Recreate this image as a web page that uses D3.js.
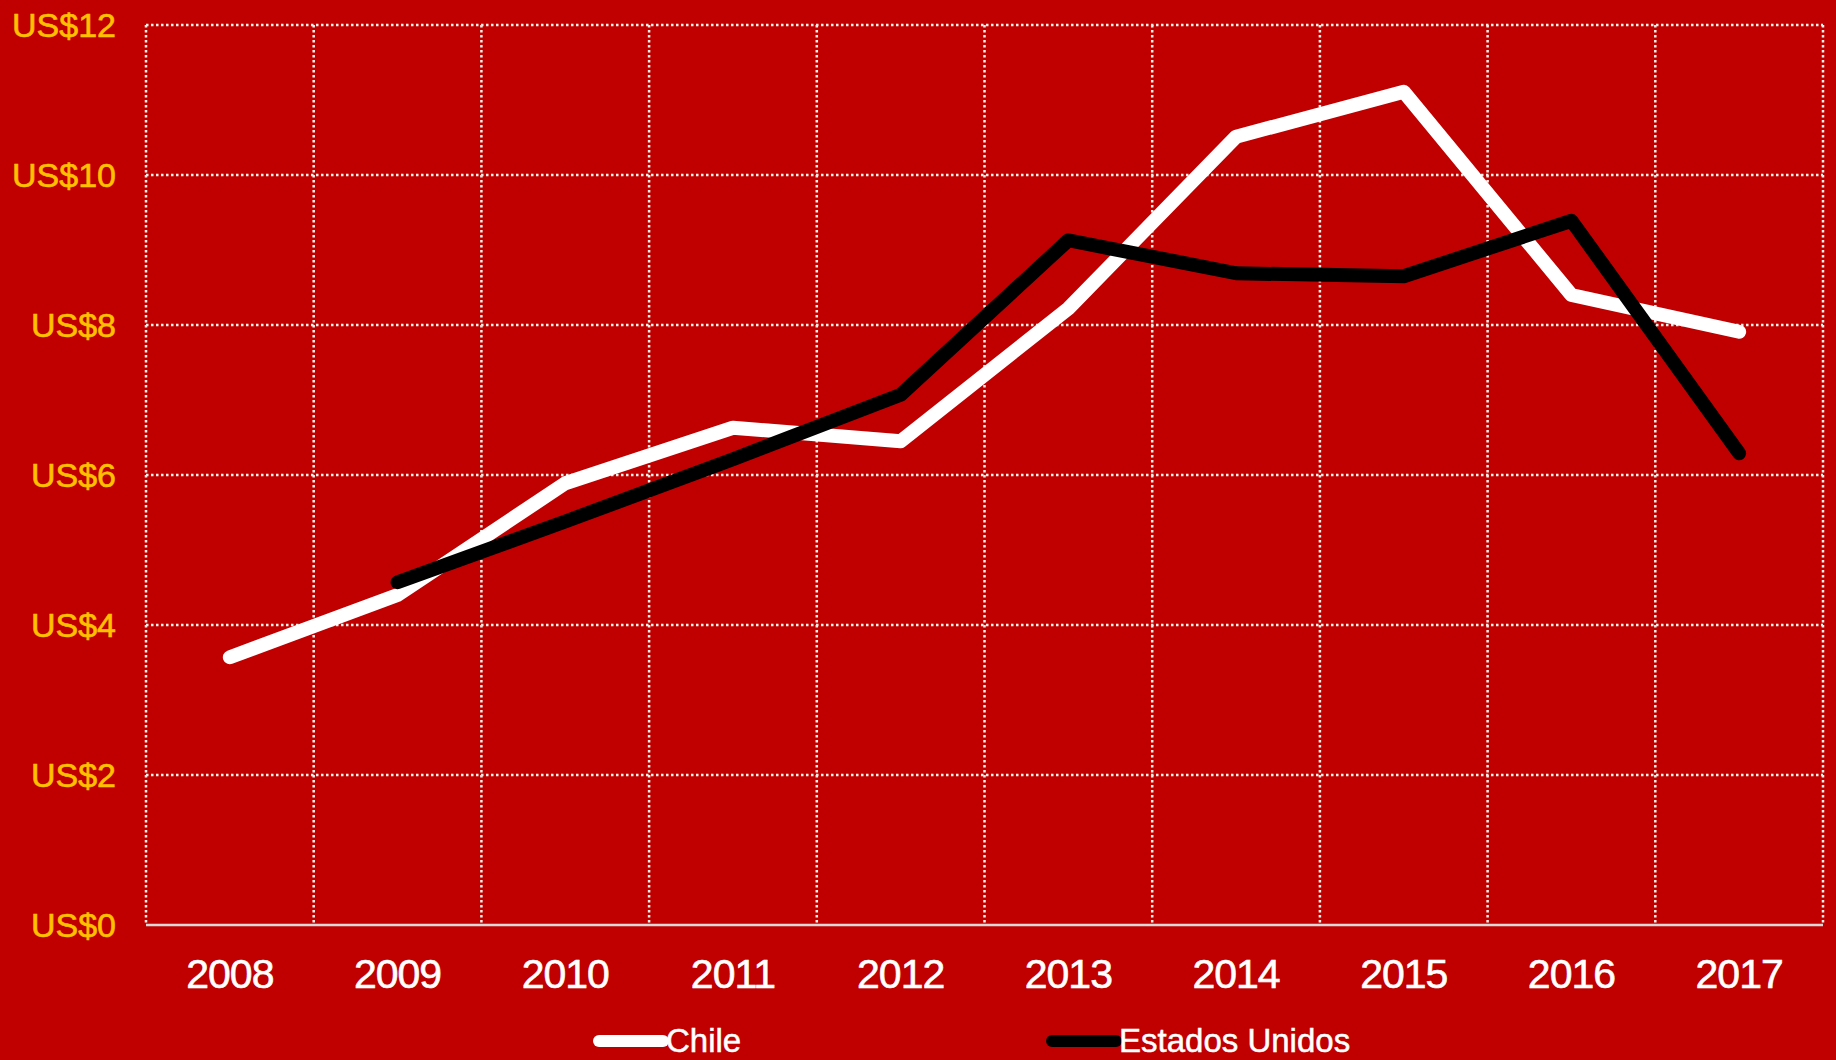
<!DOCTYPE html>
<html>
<head>
<meta charset="utf-8">
<script src="https://cdn.jsdelivr.net/npm/d3@7"></script>
<style>
    html, body { margin: 0; padding: 0; background: #c00000; }
    #chart { width: 1836px; height: 1060px; }
    text { font-family: "Liberation Sans", Arial, sans-serif; }
</style>
</head>
<body>
<div id="chart"></div>
<script>
const years = ["2008", "2009", "2010", "2011", "2012", "2013", "2014", "2015", "2016", "2017"];
const chile = [3.57, 4.40, 5.89, 6.63, 6.45, 8.22, 10.51, 11.11, 8.40, 7.91];
const estadosUnidos = [null, 4.57, 5.38, 6.21, 7.07, 9.13, 8.69, 8.65, 9.39, 6.29];
const yTicks = [0, 2, 4, 6, 8, 10, 12];
const seriesNames = ["Chile", "Estados Unidos"];

const width = 1836;
const height = 1060;
const plotLeft = 146;
const plotRight = 1823;
const plotTop = 25;
const plotBottom = 925;

let svg = d3.select("#chart")
    .append("svg")
    .attr("width", width)
    .attr("height", height);

svg.append("rect")
    .attr("width", width)
    .attr("height", height)
    .style("fill", "#c00000");

let x = d3.scaleBand()
    .domain(years)
    .range([plotLeft, plotRight])
    .padding(0);

let y = d3.scaleLinear()
    .domain([0, 12])
    .range([plotBottom, plotTop]);

// horizontal grid
svg.append("g")
    .selectAll("line")
    .data(yTicks.filter(d => d > 0))
    .join("line")
    .attr("x1", plotLeft)
    .attr("x2", plotRight)
    .attr("y1", d => y(d))
    .attr("y2", d => y(d))
    .style("stroke", "#f6f2ea")
    .style("stroke-width", 2.5)
    .style("stroke-dasharray", "2.5,2.5");

// vertical grid on the band edges
let edges = years.map(d => x(d)).concat([plotRight]);
svg.append("g")
    .selectAll("line")
    .data(edges)
    .join("line")
    .attr("x1", d => d)
    .attr("x2", d => d)
    .attr("y1", plotTop)
    .attr("y2", plotBottom)
    .style("stroke", "#f6f2ea")
    .style("stroke-width", 2.5)
    .style("stroke-dasharray", "2.5,2.5");

// baseline
svg.append("line")
    .attr("x1", plotLeft)
    .attr("x2", plotRight)
    .attr("y1", plotBottom)
    .attr("y2", plotBottom)
    .style("stroke", "#d9d9d9")
    .style("stroke-width", 2.5);

// y labels
svg.append("g")
    .selectAll("text")
    .data(yTicks)
    .join("text")
    .attr("x", 116)
    .attr("y", d => y(d))
    .attr("dy", "0.35em")
    .attr("text-anchor", "end")
    .style("font-size", "34px")
    .style("fill", "#ffc000")
    .style("stroke", "#ffc000")
    .style("stroke-width", 0.6)
    .text(d => "US$" + d);

// x labels
svg.append("g")
    .selectAll("text")
    .data(years)
    .join("text")
    .attr("x", d => x(d) + x.bandwidth() / 2)
    .attr("y", 988)
    .attr("text-anchor", "middle")
    .style("font-size", "41px")
    .style("letter-spacing", "-1px")
    .style("fill", "#ffffff")
    .style("stroke", "#ffffff")
    .style("stroke-width", 0.6)
    .text(d => d);

let line = d3.line()
    .defined(d => d.v !== null)
    .x(d => x(d.year) + x.bandwidth() / 2)
    .y(d => y(d.v));

function drawSeries(values, color){
    let points = years.map((yr, i) => ({year: yr, v: values[i]}));
    svg.append("path")
        .datum(points)
        .attr("d", line)
        .style("fill", "none")
        .style("stroke", color)
        .style("stroke-width", 14)
        .style("stroke-linecap", "round")
        .style("stroke-linejoin", "round");
}

drawSeries(chile, "#ffffff");
drawSeries(estadosUnidos, "#000000");

// legend
let legendItems = [
    {name: seriesNames[0], color: "#ffffff", x: 599},
    {name: seriesNames[1], color: "#000000", x: 1052}
];
let legend = svg.append("g");
legendItems.forEach(function(item){
    legend.append("line")
        .attr("x1", item.x)
        .attr("x2", item.x + 64)
        .attr("y1", 1041)
        .attr("y2", 1041)
        .style("stroke", item.color)
        .style("stroke-width", 12)
        .style("stroke-linecap", "round");
    legend.append("text")
        .attr("x", item.x + 67)
        .attr("y", 1052)
        .style("font-size", "33px")
        .style("fill", "#ffffff")
        .style("stroke", "#ffffff")
        .style("stroke-width", 0.5)
        .text(item.name);
});
</script>
</body>
</html>
